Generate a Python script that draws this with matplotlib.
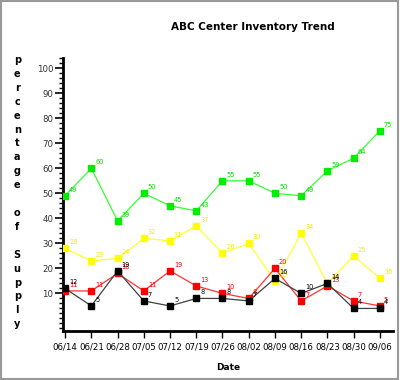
import matplotlib.pyplot as plt
from matplotlib.patches import Rectangle
from matplotlib.ticker import MultipleLocator

# Weekly dates along the x axis
dates = ['06/14', '06/21', '06/28', '07/05', '07/12', '07/19', '07/26',
         '08/02', '08/09', '08/16', '08/23', '08/30', '09/06']

# Percentage of supply, one list per series
green_vals = [49, 60, 39, 50, 45, 43, 55, 55, 50, 49, 59, 64, 75]
yellow_vals = [28, 23, 24, 32, 31, 37, 26, 30, 15, 34, 14, 25, 16]
red_vals = [11, 11, 18, 11, 19, 13, 10, 8, 20, 7, 13, 7, 5]
black_vals = [12, 5, 19, 7, 5, 8, 8, 7, 16, 10, 14, 4, 4]

series = [
    (green_vals, '#33ff33', '#00ee00', '#00dd00'),
    (yellow_vals, '#ffff33', '#ffff00', '#eeee00'),
    (red_vals, '#ff3333', '#ff0000', '#ff0000'),
    (black_vals, '#404040', '#000000', '#000000'),
]

fig = plt.figure(figsize=(4, 3.8), dpi=100)
fig.patches.append(Rectangle((0.002, 0.003), 0.994, 0.994, transform=fig.transFigure,
                             fill=False, edgecolor='#999999', linewidth=1.5))

ax = fig.add_axes([0.1575, 0.129, 0.825, 0.718])
x = list(range(len(dates)))

for vals, line_c, mark_c, text_c in series:
    ax.plot(x, vals, color=line_c, linewidth=0.9, marker='s', markersize=4.5,
            markerfacecolor=mark_c, markeredgecolor=mark_c, zorder=3)
    for xi, v in zip(x, vals):
        ax.annotate(str(v), (xi, v), xytext=(4, 3), textcoords='offset pixels',
                    fontsize=4.8, color=text_c, ha='left', va='bottom', zorder=4)

ax.set_xlim(-0.08, 12.5)
ax.set_ylim(-5, 104)
ax.set_xticks(x)
ax.set_xticklabels(dates, fontsize=6.2)
ax.set_yticks(range(10, 101, 10))
ax.set_yticklabels([str(v) for v in range(10, 101, 10)], fontsize=6.2, color='#333333')
ax.yaxis.set_minor_locator(MultipleLocator(2))
ax.tick_params(axis='y', which='major', length=6, width=1.2, pad=1)
ax.tick_params(axis='y', which='minor', length=3, width=1.0)
ax.tick_params(axis='x', which='major', length=5, width=1.0, pad=3)

for side in ['top', 'right']:
    ax.spines[side].set_visible(False)
for side in ['left', 'bottom']:
    ax.spines[side].set_linewidth(2)

fig.text(0.633, 0.928, 'ABC Center Inventory Trend', fontsize=7.5, fontweight='bold',
         ha='center', va='center')
fig.text(0.57, 0.034, 'Date', fontsize=6.5, fontweight='bold', ha='center', va='center')

# stacked y label, one letter per row
ylabel = 'percentage of Supply'
for i, ch in enumerate(ylabel):
    fig.text(0.043, 0.842 - i * 0.0366, ch, fontsize=7, fontweight='bold',
             ha='center', va='center')

fig.savefig('out.png', dpi=100)
